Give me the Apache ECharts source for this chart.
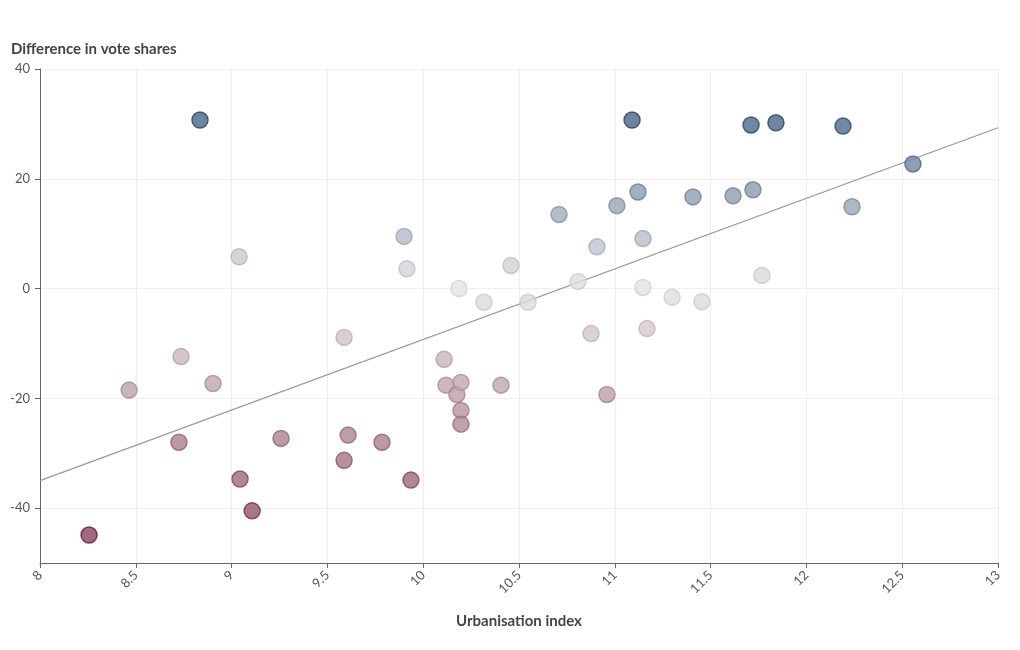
<!DOCTYPE html>
<html>
<head>
<meta charset="utf-8">
<script src="https://cdn.jsdelivr.net/npm/echarts@6/dist/echarts.min.js"></script>
<style>
  html, body { margin: 0; padding: 0; background: #fff; }
  #chart { width: 1020px; height: 650px; }
</style>
</head>
<body>
<div id="chart"></div>
<script>
// urbanisation index of each area
const urbanisation = [
  8.256, 8.465, 8.725, 8.736, 8.835, 8.903, 9.039, 9.044, 9.107, 9.258,
  9.587, 9.587, 9.608, 9.785, 9.90, 9.915, 9.936, 10.109, 10.119, 10.176,
  10.187, 10.197, 10.197, 10.197, 10.317, 10.406, 10.458, 10.547, 10.709, 10.808,
  10.876, 10.907, 10.959, 11.011, 11.090, 11.121, 11.147, 11.147, 11.168, 11.299,
  11.408, 11.455, 11.617, 11.711, 11.721, 11.768, 11.841, 12.191, 12.238, 12.556
]
// difference in vote shares for the same areas
const voteDiff = [
  -44.9, -18.5, -28.0, -12.4, 30.7, -17.3, 5.8, -34.7, -40.5, -27.3,
  -8.9, -31.3, -26.7, -28.0, 9.5, 3.6, -34.9, -12.9, -17.6, -19.3,
  0.0, -17.1, -22.2, -24.7, -2.5, -17.6, 4.2, -2.5, 13.5, 1.3,
  -8.2, 7.6, -19.3, 15.1, 30.7, 17.6, 9.1, 0.2, -7.3, -1.6,
  16.7, -2.4, 16.9, 29.8, 18.0, 2.4, 30.2, 29.6, 14.9, 22.7
]
// fitted trend line end points
const trendX = [8, 13]
const trendY = [-35.0, 29.3]
const yTicks = [-40, -20, 0, 20, 40]

const font = 'Lato, "Noto Sans", sans-serif'

// diverging colours: red for negative, grey at 0, blue for positive
const lerp = echarts.color.lerp
function pointStyle (v) {
  const neg = v < 0
  const t = Math.min(1, neg ? -v / 45 : v / 31)
  return {
    color: lerp(t, ['#e3e3e3', neg ? '#8a4460' : '#48658a']),
    borderColor: lerp(t, ['#d2d2d2', neg ? '#681c3a' : '#283e5c'])
  }
}

const chart = echarts.init(document.getElementById('chart'))
chart.setOption({
  animation: false,
  textStyle: { fontFamily: font },
  title: {
    text: 'Difference in vote shares',
    left: 6,
    top: 37,
    textStyle: { fontSize: 15, fontWeight: 'bold', color: '#444', fontFamily: font }
  },
  grid: {
    left: 40,
    right: 22,
    top: 69,
    bottom: 87
  },
  xAxis: {
    type: 'value',
    min: 8,
    max: 13,
    interval: 0.5,
    name: 'Urbanisation index',
    nameLocation: 'middle',
    nameGap: 51,
    nameTextStyle: { fontSize: 15, fontWeight: 'bold', color: '#444' },
    axisLine: { show: true, onZero: false, lineStyle: { color: '#666' } },
    axisTick: { show: true, length: 5, lineStyle: { color: '#666' } },
    axisLabel: { rotate: 45, color: '#555', fontSize: 13, margin: 10 },
    splitLine: { show: true, lineStyle: { color: '#eee' } }
  },
  yAxis: {
    type: 'value',
    min: -50,
    max: 40,
    interval: 10,
    axisLine: { show: true, onZero: false, lineStyle: { color: '#666' } },
    axisTick: { show: true, length: 5, lineStyle: { color: '#666' }, customValues: yTicks },
    axisLabel: { color: '#555', fontSize: 13, margin: 10, customValues: yTicks },
    splitLine: { show: true, lineStyle: { color: '#f0f0f0' } }
  },
  series: [
    {
      type: 'scatter',
      symbolSize: 16,
      z: 3,
      data: urbanisation.map((x, i) => ({
        value: [x, voteDiff[i]],
        itemStyle: pointStyle(voteDiff[i])
      })),
      itemStyle: { borderWidth: 1.5 }
    },
    {
      type: 'line',
      z: 2,
      symbol: 'none',
      silent: true,
      data: trendX.map((x, i) => [x, trendY[i]]),
      lineStyle: { color: '#999', width: 1.2 }
    }
  ]
})
</script>
</body>
</html>
